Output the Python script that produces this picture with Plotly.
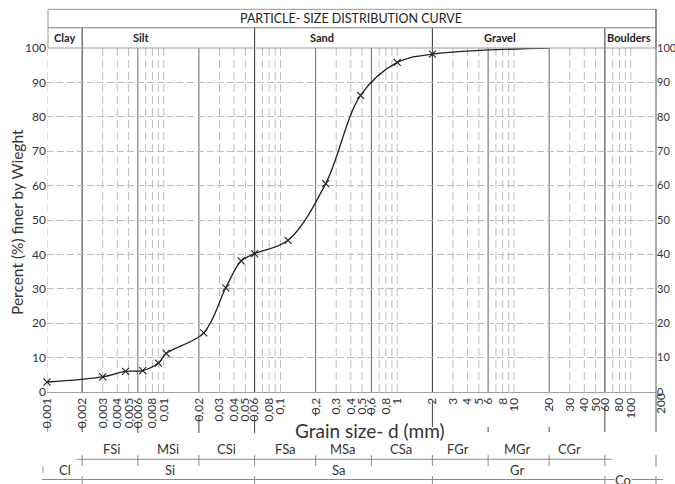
import math
import plotly.graph_objects as go

# ---------------- data ----------------
grain_size_mm = [0.001, 0.003, 0.0047, 0.0066, 0.009, 0.0105, 0.022, 0.034,
                 0.046, 0.06, 0.116, 0.244, 0.485, 1.0, 2.0]
percent_finer = [2.9, 4.4, 6.0, 6.2, 8.4, 11.2, 17.2, 30.3,
                 38.1, 40.2, 44.1, 60.6, 86.2, 95.8, 98.2]
curve_end_size = [20.0]
curve_end_percent = [100.0]

tick_values = [0.001, 0.002, 0.003, 0.004, 0.005, 0.006, 0.008, 0.01,
               0.02, 0.03, 0.04, 0.05, 0.06, 0.08, 0.1,
               0.2, 0.3, 0.4, 0.5, 0.6, 0.8, 1,
               2, 3, 4, 5, 6, 8, 10,
               20, 30, 40, 50, 60, 80, 100]
tick_labels = ["0,001", "0,002", "0,003", "0,004", "0,005", "0,006", "0,008", "0,01",
               "0,02", "0,03", "0,04", "0,05", "0,06", "0,08", "0,1",
               "0,2", "0,3", "0,4", "0,5", "0,6", "0,8", "1",
               "2", "3", "4", "5", "6", "8", "10",
               "20", "30", "40", "50", "60", "80", "100"]
last_tick_label = "200"

main_boundaries = [0.002, 0.06, 2, 60]
main_names = ["Clay", "Silt", "Sand", "Gravel", "Boulders"]
sub_boundaries = [0.006, 0.02, 0.2, 0.6, 6, 20]
dashed_grid = [0.001, 0.003, 0.004, 0.005, 0.007, 0.008, 0.009, 0.01,
               0.03, 0.04, 0.05, 0.07, 0.08, 0.09, 0.1,
               0.3, 0.4, 0.5, 0.7, 0.8, 0.9, 1,
               3, 4, 5, 7, 8, 9, 10,
               30, 40, 50, 70, 80, 90, 100]
fine_names = ["FSi", "MSi", "CSi", "FSa", "MSa", "CSa", "FGr", "MGr", "CGr"]
coarse_names = ["Cl", "Si", "Sa", "Gr", "Co"]

# ---------------- layout helpers ----------------
W, H = 675, 484
ML, MR, MT, MB = 47, 19, 48, 92
PW, PH = W - ML - MR, H - MT - MB


def px(x):
    return (x - ML) / PW


def py(y):
    return (H - MB - y) / PH


FONT = "Lato, 'Open Sans', sans-serif"
TXT = "#333333"
shapes = []
annotations = []


def vline(xv, y0, y1, color, width=1, dash="solid", xref="x"):
    shapes.append(dict(type="line", xref=xref, yref="paper", x0=xv, x1=xv,
                       y0=y0, y1=y1, line=dict(color=color, width=width, dash=dash),
                       layer="below"))


def hline(x0, x1, yv, color, width=1):
    shapes.append(dict(type="line", xref="paper", yref="paper", x0=x0, x1=x1,
                       y0=yv, y1=yv, line=dict(color=color, width=width)))


def text(t, x, y, size, bold=False, color=TXT, angle=0, bg=None):
    a = dict(text=("<b>%s</b>" % t) if bold else t, xref="paper", yref="paper",
             x=px(x), y=py(y), xanchor="center", yanchor="middle", showarrow=False,
             textangle=angle, font=dict(family=FONT, size=size, color=color))
    if bg:
        a["bgcolor"] = bg
        a["borderpad"] = 0
    annotations.append(a)


# dashed vertical grid
for v in dashed_grid:
    vline(v, 0, 1, "#bdbdbd", 1, "8px,4px")
# solid sub boundaries
for v in sub_boundaries:
    vline(v, 0, 1, "#666666", 1)
# main boundaries reach into header
for v in main_boundaries:
    vline(v, 0, py(27.7), "#444444", 1.1)

# header boxes
shapes.append(dict(type="rect", xref="paper", yref="paper", x0=px(48), x1=1,
                   y0=py(27.7), y1=py(9.3), line=dict(color="#9a9a9a", width=1)))
shapes.append(dict(type="rect", xref="paper", yref="paper", x0=px(48), x1=1,
                   y0=1, y1=py(27.7), line=dict(color="#9a9a9a", width=1)))
# right border
shapes.append(dict(type="line", xref="paper", yref="paper", x0=1, x1=1,
                   y0=py(432), y1=py(9.3), line=dict(color="#555555", width=1)))

# lines below the axis (continuations of major lines)
below = [(0.001, 421, 432), (0.002, 421, 432), (0.006, 421, 433),
         (0.02, 415, 433), (0.06, 415, 433), (2, 401, 427), (60, 406, 432),
         (0.2, 408, 416), (0.6, 409, 416), (20, 404, 408),
         (6, 427, 432), (20, 427, 432)]
for v, a, b in below:
    shapes.append(dict(type="line", xref="x", yref="paper", x0=v, x1=v,
                       y0=py(a), y1=py(b), line=dict(color="#444444", width=1)))

# lower classification table
hline(px(76.7), px(611.7), py(459.3), "#8a8a8a")
hline(px(41.7), px(663), py(479.5), "#8a8a8a")
for v in [0.002, 0.006, 0.02, 0.06, 0.2, 0.6, 2, 6, 20, 60]:
    shapes.append(dict(type="line", xref="x", yref="paper", x0=v, x1=v,
                       y0=py(455), y1=py(466), line=dict(color="#8a8a8a", width=1)))
for v in main_boundaries:
    shapes.append(dict(type="line", xref="x", yref="paper", x0=v, x1=v,
                       y0=py(476), y1=py(484), line=dict(color="#8a8a8a", width=1)))
shapes.append(dict(type="line", xref="paper", yref="paper", x0=px(43), x1=px(43),
                   y0=py(466), y1=py(473), line=dict(color="#8a8a8a", width=1)))
shapes.append(dict(type="line", xref="paper", yref="paper", x0=1, x1=1,
                   y0=py(455), y1=py(467), line=dict(color="#8a8a8a", width=1)))
shapes.append(dict(type="line", xref="paper", yref="paper", x0=1, x1=1,
                   y0=py(476), y1=py(484), line=dict(color="#8a8a8a", width=1)))

# texts
text("PARTICLE- SIZE DISTRIBUTION CURVE", 351, 18.8, 12.5, color="#222222")
for name, xc in zip(main_names, [64, 141, 322, 500, 629]):
    text(name, xc, 37.8, 11, bold=True, color="#222222")
text("Percent (%) finer by Wieght", 17, 222, 15.5, angle=-90)
text("Grain size- d (mm)", 370, 430, 19)
for name, xc in zip(fine_names, [111.7, 168, 226.7, 285, 343, 400.7, 458.3, 516.7, 569]):
    text(name, xc, 449, 13)
for name, xc, yc in zip(coarse_names, [65, 170, 338, 516.7, 623], [469.5, 469.5, 470, 470, 480]):
    text(name, xc, yc, 13, bg="white" if name == "Co" else None)
text(last_tick_label, 660, 404, 12, angle=-90)

fig = go.Figure()
fig.add_trace(go.Scatter(x=grain_size_mm + curve_end_size,
                         y=percent_finer + curve_end_percent,
                         mode="lines", line=dict(color="#222222", width=1.3,
                                                 shape="spline", smoothing=1.0),
                         cliponaxis=False, hoverinfo="skip", showlegend=False))
fig.add_trace(go.Scatter(x=grain_size_mm, y=percent_finer, mode="markers",
                         marker=dict(symbol="x-thin", size=7,
                                     line=dict(color="#222222", width=1.1)),
                         cliponaxis=False, showlegend=False))
fig.add_trace(go.Scatter(x=[0.01], y=[50], yaxis="y2", mode="markers",
                         marker=dict(opacity=0), hoverinfo="skip", showlegend=False))

fig.update_layout(
    width=W, height=H, margin=dict(l=ML, r=MR, t=MT, b=MB, pad=0, autoexpand=False),
    paper_bgcolor="white", plot_bgcolor="white",
    font=dict(family=FONT, color=TXT),
    shapes=shapes, annotations=annotations,
    xaxis=dict(type="log", range=[-3, math.log10(164.5)], tickmode="array",
               tickvals=tick_values, ticktext=tick_labels, tickangle=-90,
               tickfont=dict(family=FONT, size=12, color=TXT), automargin=False,
               showgrid=False, zeroline=False, showline=True,
               linecolor="#a0a0a0", linewidth=1, ticks=""),
    yaxis=dict(range=[0, 100], tickvals=list(range(0, 101, 10)), automargin=False,
               tickfont=dict(family=FONT, size=12, color=TXT),
               showgrid=True, gridcolor="#bdbdbd", griddash="7px,3px",
               gridwidth=1, zeroline=False, showline=False, ticks=""),
    yaxis2=dict(range=[0, 100], tickvals=list(range(0, 101, 10)), automargin=False,
                overlaying="y", side="right", showgrid=False, zeroline=False,
                tickfont=dict(family=FONT, size=11, color=TXT),
                showline=False, ticks=""),
)

fig.write_html("out.html", config={"displayModeBar": False},
               post_script="document.body.style.margin='0px';"
                           "document.documentElement.style.overflow='hidden';")
